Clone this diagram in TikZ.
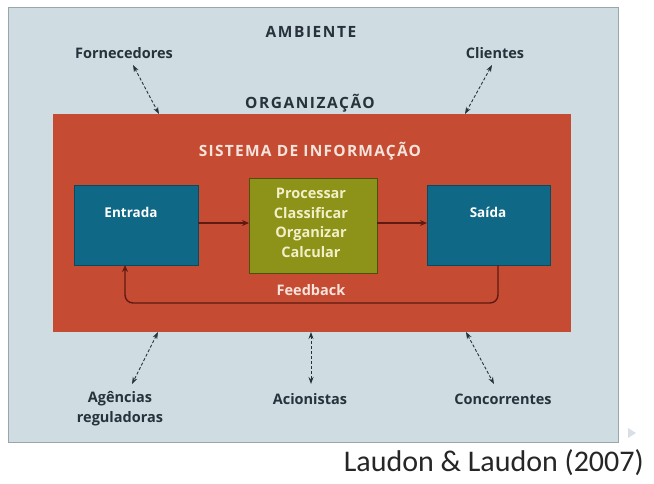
\documentclass[tikz,border=0pt]{standalone}
\usepackage{fontspec}
\setmainfont{Open Sans}
\newfontfamily\citefont{Carlito}
\usetikzlibrary{arrows.meta}
\definecolor{panel}{HTML}{CFDDE2}
\definecolor{panelline}{HTML}{9AA6AB}
\definecolor{orgfill}{HTML}{C54C33}
\definecolor{tealfill}{HTML}{0E6886}
\definecolor{olivefill}{HTML}{8D9318}
\definecolor{darktext}{HTML}{27323B}
\definecolor{darkred}{HTML}{5E1A12}
\definecolor{paletext}{HTML}{F6E3DC}
\definecolor{yellowtext}{HTML}{F3EFC8}
\definecolor{markgray}{HTML}{D9DFE7}
\tikzset{
  lbl/.style={font=\bfseries\fontsize{14.5}{16}\selectfont, text=darktext, inner sep=0pt},
  caplbl/.style={font=\bfseries\fontsize{15.5}{17}\selectfont\addfontfeature{LetterSpace=10}, text=darktext, inner sep=0pt},
  boxlbl/.style={font=\bfseries\fontsize{13.5}{15}\selectfont, inner sep=0pt},
  envarrow/.style={{Stealth[length=7pt,width=5pt]}-{Stealth[length=7pt,width=5pt]}, densely dashed, line width=0.9pt, draw=darktext},
  flowarrow/.style={-{Stealth[length=7pt,width=6pt]}, line width=1.4pt, draw=darkred},
  tealbox/.style={fill=tealfill, draw=tealfill!70!black, line width=0.6pt},
}
\begin{document}
\begin{tikzpicture}[x=1pt,y=-1pt]
\useasboundingbox[fill=white] (0,0) rectangle (654,483);
% panels
\draw[fill=panel, draw=panelline, line width=0.8pt] (8,7) rectangle (618,442);
\fill[orgfill] (53,114) rectangle (571,332);
\draw[tealbox] (74,185) rectangle (198,265);
\draw[fill=olivefill, draw=olivefill!55!black, line width=0.8pt] (249,178) rectangle (377,273);
\draw[tealbox] (427,185) rectangle (550,265);
% small slide marker
\fill[markgray] (628,428) -- (636,433) -- (628,438) -- cycle;
% named anchors for boxes
\coordinate (entR) at (198,223);
\coordinate (procL) at (249,223);
\coordinate (procR) at (377,223);
\coordinate (saiL) at (427,223);
\coordinate (entB) at (125,265);
\coordinate (saiB) at (498,265);
\coordinate (orgT1) at (159,114);
\coordinate (orgT2) at (465,114);
\coordinate (orgB1) at (158,332);
\coordinate (orgB2) at (311,332);
\coordinate (orgB3) at (466,332);
% texts
\node[caplbl] (amb) at (311,32) {AMBIENTE};
\node[lbl] (forn) at (124,53) {Fornecedores};
\node[lbl] (cli) at (495,53) {Clientes};
\node[caplbl] (org) at (310,103) {ORGANIZAÇÃO};
\node[caplbl, text=paletext, font=\bfseries\fontsize{15.5}{17}\selectfont\addfontfeature{LetterSpace=8}] (sis) at (310,151) {SISTEMA DE INFORMAÇÃO};
\node[boxlbl, text=white] (ent) at (131,212) {Entrada};
\node[boxlbl, text=white] (sai) at (488,212) {Saída};
\node[boxlbl, text=yellowtext, align=center, font=\bfseries\fontsize{14.5}{19.5}\selectfont] (proc) at (311,223) {Processar\\Classificar\\Organizar\\Calcular};
\node[boxlbl, text=paletext, font=\bfseries\fontsize{14.5}{16}\selectfont] (fb) at (311,290) {Feedback};
\node[lbl, align=center, font=\bfseries\fontsize{14.5}{20}\selectfont] (age) at (120,409) {Agências\\reguladoras};
\node[lbl] (aci) at (310,399) {Acionistas};
\node[lbl] (con) at (503,399) {Concorrentes};
\node[font=\citefont\fontsize{30}{34}\selectfont, text=black!85, inner sep=0pt, anchor=east] (cite) at (644,463) {Laudon \& Laudon (2007)};
% flow arrows
\draw[flowarrow] (entR) -- (procL);
\draw[flowarrow] (procR) -- (saiL);
\draw[flowarrow, rounded corners=8pt] (saiB) -- (498,303) -- (125,303) -- (entB);
% environment arrows
\draw[envarrow] (133,65) -- (orgT1);
\draw[envarrow] (492,65) -- (orgT2);
\draw[envarrow] (orgB1) -- (132,384);
\draw[envarrow] (orgB2) -- (311,384);
\draw[envarrow] (orgB3) -- (494,384);
\end{tikzpicture}
\end{document}
